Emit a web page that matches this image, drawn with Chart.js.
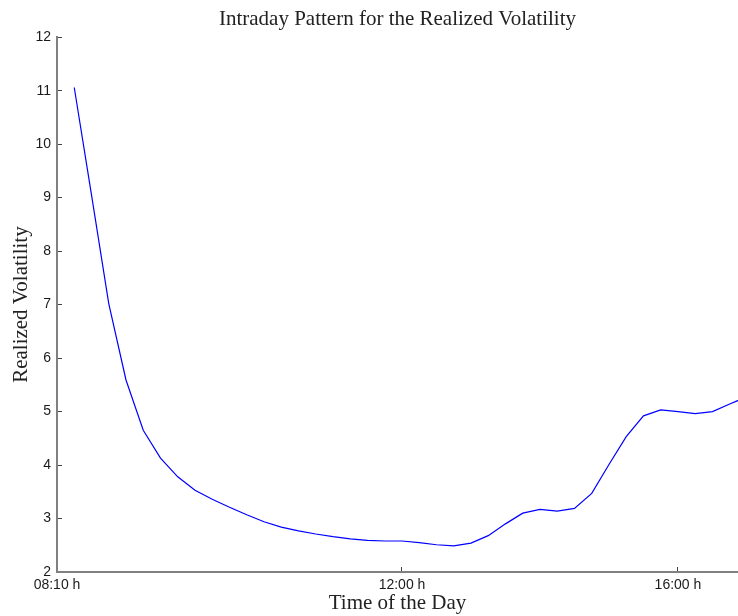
<!DOCTYPE html>
<html>
<head>
<meta charset="utf-8">
<script src="https://cdn.jsdelivr.net/npm/chart.js@4.4.1/dist/chart.umd.min.js"></script>
<style>
  html, body { margin: 0; padding: 0; background: #fff; }
  #box { width: 738px; height: 616px; }
</style>
</head>
<body>
<div id="box"><canvas id="cvs" width="738" height="616"></canvas></div>
<script>
// time slots (index along the trading day) and realized volatility
const slots = [1, 2, 3, 4, 5, 6, 7, 8, 9, 10,
               11, 12, 13, 14, 15, 16, 17, 18, 19, 20,
               21, 22, 23, 24, 25, 26, 27, 28, 29, 30,
               31, 32, 33, 34, 35, 36, 37, 38, 39, 40];
const volatility = [11.06, 9.05, 7.02, 5.59, 4.65, 4.13, 3.78, 3.53, 3.36, 3.21,
                    3.07, 2.94, 2.84, 2.77, 2.71, 2.66, 2.62, 2.59, 2.58, 2.58,
                    2.55, 2.51, 2.49, 2.54, 2.68, 2.90, 3.10, 3.17, 3.14, 3.19,
                    3.47, 4.01, 4.53, 4.92, 5.03, 5.00, 4.96, 5.00, 5.14, 5.28];

// x ticks
const tickSlots = [0, 20, 36];
const tickLabels = ['08:10 h', '12:00 h', '16:00 h'];

const serif = 'Liberation Serif';
const sans = 'Liberation Sans';

const ctx = document.getElementById('cvs');
const chart = new Chart(ctx, {
    type: 'line',
    data: {
        datasets: [{
            data: slots.map((s, i) => ({x: s, y: volatility[i]})),
            borderColor: '#0000ff',
            borderWidth: 1.2,
            pointRadius: 0,
            tension: 0,
            fill: false,
        }]
    },
    options: {
        responsive: false,
        animation: false,
        layout: { padding: 0 },
        plugins: {
            legend: { display: false },
            tooltip: { enabled: false },
            title: {
                display: true,
                text: 'Intraday Pattern for the Realized Volatility',
                fullSize: false,
                color: '#222',
                font: { family: serif, size: 21, weight: 'normal' },
                padding: { top: 7, bottom: 5 }
            }
        },
        scales: {
            x: {
                type: 'linear',
                min: 0,
                max: 39.48,
                afterBuildTicks: (scale) => {
                    scale.ticks = tickSlots.map(v => ({value: v}));
                },
                afterFit: (scale) => { scale.height = 44; },
                ticks: {
                    autoSkip: false,
                    maxRotation: 0,
                    padding: 10,
                    color: '#1a1a1a',
                    font: { family: sans, size: 14 },
                    callback: (v) => tickLabels[tickSlots.indexOf(v)]
                },
                grid: {
                    drawOnChartArea: false,
                    tickLength: -5,
                    color: '#444',
                    lineWidth: 1
                },
                border: { color: '#808080', width: 2 },
                title: {
                    display: true,
                    text: 'Time of the Day',
                    color: '#222',
                    font: { family: serif, size: 21, weight: 'normal' },
                    padding: { top: 0, bottom: 0 }
                }
            },
            y: {
                min: 2,
                max: 12,
                afterFit: (scale) => { scale.width = 57; },
                ticks: {
                    stepSize: 1,
                    padding: 11,
                    color: '#1a1a1a',
                    font: { family: sans, size: 14 }
                },
                grid: {
                    drawOnChartArea: false,
                    tickLength: -5,
                    color: '#444',
                    lineWidth: 1
                },
                border: { color: '#808080', width: 2 },
                title: {
                    display: true,
                    text: 'Realized Volatility',
                    color: '#222',
                    font: { family: serif, size: 21, weight: 'normal' },
                    padding: { top: 9, bottom: 0 }
                }
            }
        }
    }
});
</script>
</body>
</html>
